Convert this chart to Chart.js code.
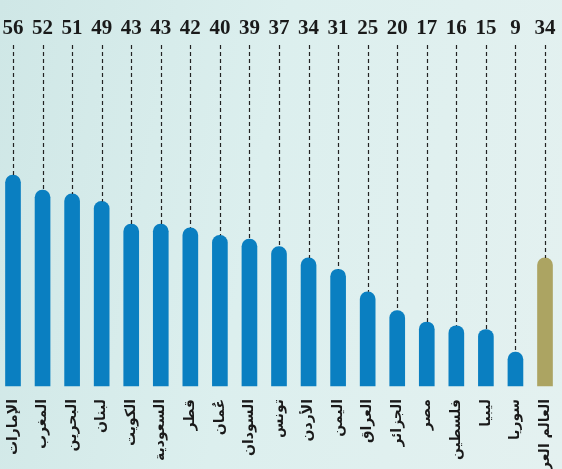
<!DOCTYPE html>
<html>
<head>
<meta charset="utf-8">
<script src="https://cdn.jsdelivr.net/npm/chart.js@4"></script>
<style>
html,body{margin:0;padding:0;}
body{width:562px;height:469px;overflow:hidden;background:linear-gradient(100deg,#cfe7e6 0%,#dcefee 45%,#e4f1f0 100%);}
canvas{display:block;}
</style>
</head>
<body>
<canvas id="c" width="562" height="469"></canvas>
<script>
const countries = ["الإمارات","المغرب","البحرين","لبنان","الكويت","السعودية","قطر","عُمان","السودان","تونس","الأردن","اليمن","العراق","الجزائر","مصر","فلسطين","ليبيا","سوريا","العالم العربي"];
const values = [56,52,51,49,43,43,42,40,39,37,34,31,25,20,17,16,15,9,34];
const barColors = values.map((v,i)=> i===values.length-1 ? "#aca462" : "#0a7fc1");

const labelPlugin = {
  id:'valueLabels',
  afterDatasetsDraw(chart){
    const ctx = chart.ctx;
    const meta = chart.getDatasetMeta(0);
    ctx.save();
    meta.data.forEach((bar,i)=>{
      ctx.strokeStyle = '#222';
      ctx.lineWidth = 1.2;
      ctx.setLineDash([4,3]);
      ctx.beginPath();
      ctx.moveTo(Math.round(bar.x)+0.5, 45);
      ctx.lineTo(Math.round(bar.x)+0.5, bar.y);
      ctx.stroke();
      ctx.setLineDash([]);
      ctx.fillStyle = '#1a1a1a';
      ctx.font = 'bold 21px "Liberation Serif"';
      ctx.textAlign = 'center';
      ctx.textBaseline = 'alphabetic';
      ctx.fillText(String(values[i]), bar.x, 34);
    });
    ctx.restore();
  }
};

new Chart(document.getElementById('c'), {
  type:'bar',
  data:{
    labels: countries,
    datasets:[{
      data: values,
      backgroundColor: barColors,
      barThickness: 15,
      borderRadius: {topLeft: 7.5, topRight: 7.5, bottomLeft: 0, bottomRight: 0},
      borderSkipped: 'start',
      clip: false
    }]
  },
  options:{
    responsive:false,
    animation:false,
    layout:{padding:{left:13, right:17, top:160, bottom:0}},
    plugins:{legend:{display:false}, tooltip:{enabled:false}},
    scales:{
      x:{
        offset:false,
        grid:{display:false},
        border:{display:false},
        ticks:{
          color:'#1a1a1a',
          font:{family:'"DejaVu Sans"', size:14, weight:'bold'},
          maxRotation:90, minRotation:90,
          autoSkip:false,
          padding:5
        },
        afterFit(scale){ scale.height = 83; scale.paddingLeft = 0; scale.paddingRight = 0; }
      },
      y:{display:false, min:0, max:60}
    }
  },
  plugins:[labelPlugin]
});
</script>
</body>
</html>
